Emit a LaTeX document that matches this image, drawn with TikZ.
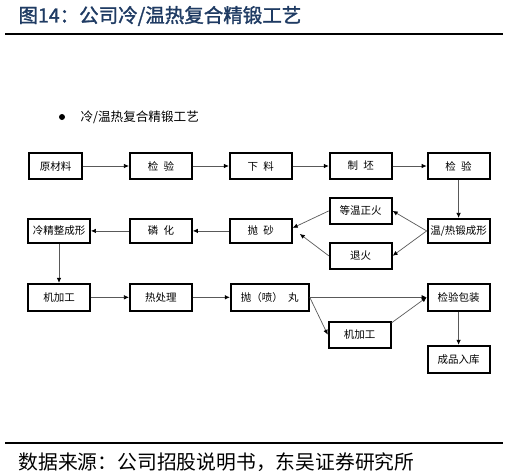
\documentclass[tikz,border=0pt]{standalone}
\usepackage{fontspec}
\usepackage{xcolor}
\usepackage{tikz}
\usetikzlibrary{arrows.meta,positioning}
\newfontfamily\cjk[AutoFakeBold=1.5]{Noto Sans CJK SC}
\definecolor{titleblue}{HTML}{1F3B63}

\begin{document}
\begin{tikzpicture}[
    x=1pt, y=1pt,
    font=\cjk\fontsize{10.5}{12}\selectfont,
    box/.style={draw=black, line width=1.9pt, minimum width=62pt, minimum height=26pt,
                inner sep=1pt, align=center},
    flow/.style={draw=black!65, line width=0.7pt, -{Latex[length=5pt, width=4.5pt, color=black]}},
  ]
  \useasboundingbox (0,0) rectangle (510,-475);

  % title, rules and source
  \node[anchor=west, text=titleblue, font=\cjk\bfseries\fontsize{19.5}{22}\selectfont] (title) at (15,-16)
    {图14：公司冷/温热复合精锻工艺};
  \draw[line width=2pt] (5,-34) -- (503,-34);
  \draw[line width=2pt] (5,-443) -- (503,-443);
  \node[anchor=west, font=\cjk\fontsize{19.8}{22}\selectfont] (source) at (15,-462)
    {数据来源：公司招股说明书，东吴证券研究所};

  \node[circle, fill=black, inner sep=0pt, minimum size=6pt] (dot) at (62,-117) {};
  \node[anchor=west, font=\cjk\fontsize{12.6}{14}\selectfont] (subtitle) at (77,-117) {冷/温热复合精锻工艺};

  % first row
  \node[box, minimum width=53pt] (raw) at (55.5,-166) {原材料};
  \node[box, right=46pt of raw] (chk1) {检\enspace 验};
  \node[box, right=36pt of chk1] (cut) {下\enspace 料};
  \node[box, right=36pt of cut] (blank) {制\enspace 坯};
  \node[box, right=34pt of blank] (chk2) {检\enspace 验};

  % second row
  \node[box, minimum height=24pt, below=38pt of chk2] (warm) {温/热锻成形};
  \node[box, below=17pt of blank] (norm) {等温正火};
  \node[box, below=17pt of norm] (anneal) {退火};
  \node[box, minimum height=24pt] (sand) at (cut |- warm) {抛\enspace 砂};
  \node[box, minimum height=24pt] (phos) at (chk1 |- warm) {磷\enspace 化};
  \node[box, minimum height=24pt, left=38pt of phos] (coldfin) {冷精整成形};

  % third row
  \node[box, minimum height=27pt, below=39pt of coldfin] (mach1) {机加工};
  \node[box, minimum height=27pt] (heat) at (chk1 |- mach1) {热处理};
  \node[box, minimum height=27pt, minimum width=78pt, right=37pt of heat] (shot) {抛（喷）\enspace 丸};
  \node[box, minimum height=27pt] (pack) at (chk2 |- mach1) {检验包装};
  \node[box, below right=9pt and 18pt of shot] (mach2) {机加工};
  \node[box, minimum height=27pt, below=33pt of pack] (store) {成品入库};

  \draw[flow] (raw) -- (chk1);
  \draw[flow] (chk1) -- (cut);
  \draw[flow] (cut) -- (blank);
  \draw[flow] (blank) -- (chk2);
  \draw[flow] (chk2) -- (warm);
  \draw[flow] (warm.west) -- (norm.east);
  \draw[flow] (warm.west) -- (anneal.east);
  \draw[flow] (norm.west) -- ([yshift=3pt]sand.east);
  \draw[flow] (anneal.west) -- ([xshift=7pt,yshift=-3pt]sand.east);
  \draw[flow] (sand) -- (phos);
  \draw[flow] (phos) -- (coldfin);
  \draw[flow] (coldfin) -- (mach1);
  \draw[flow] (mach1) -- (heat);
  \draw[flow] (heat) -- (shot);
  \draw[flow] (shot) -- (pack);
  \draw[flow] (shot.east) -- (mach2.west);
  \draw[flow] ([yshift=-2pt]mach2.north east) -- (pack.west);
  \draw[flow] (pack) -- (store);
\end{tikzpicture}
\end{document}
